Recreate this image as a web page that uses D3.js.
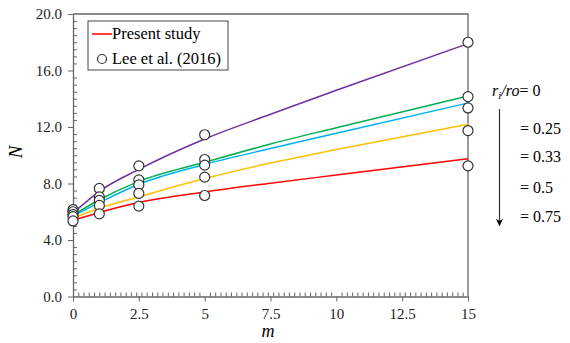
<!DOCTYPE html>
<html>
<head>
<meta charset="utf-8">
<script src="https://cdn.jsdelivr.net/npm/d3@7"></script>
<style>
  html, body { margin: 0; padding: 0; background: #fff; }
  svg { display: block; }
  svg text { font-family: "Liberation Serif", "Times New Roman", serif; }
</style>
</head>
<body>
<svg id="chart" width="570" height="343"></svg>
<script>
// ratio labels, top to bottom
const ratios = ["0", "0.25", "0.33", "0.5", "0.75"];
const colors = ["#7030A0", "#00B050", "#00B0F0", "#FFC000", "#FF0000"];

// present study curves
const lineM = [0, 1, 2.5, 5, 7.5, 10, 15];
const lineR0 = [5.9, 7.45, 9.0, 11.15, 12.9, 14.6, 17.9];
const lineR25 = [5.75, 6.85, 8.15, 9.5, 10.8, 11.95, 14.2];
const lineR33 = [5.7, 6.65, 7.95, 9.35, 10.48, 11.55, 13.7];
const lineR50 = [5.55, 6.25, 7.05, 8.35, 9.45, 10.4, 12.2];
const lineR75 = [5.4, 5.95, 6.65, 7.4, 8.02, 8.6, 9.75];

// Lee et al. (2016) points
const leeM = [0, 1, 2.5, 5, 15];
const leeR0 = [6.15, 7.65, 9.25, 11.45, 18.0];
const leeR25 = [6.0, 7.05, 8.25, 9.7, 14.15];
const leeR33 = [5.8, 6.8, 7.9, 9.3, 13.35];
const leeR50 = [5.65, 6.45, 7.3, 8.45, 11.75];
const leeR75 = [5.35, 5.85, 6.4, 7.15, 9.25];

const xTicks = [0, 2.5, 5, 7.5, 10, 12.5, 15];
const yTicks = [0, 4, 8, 12, 16, 20];

const lines = [lineR0, lineR25, lineR33, lineR50, lineR75];
const lees = [leeR0, leeR25, leeR33, leeR50, leeR75];

const svg = d3.select("#chart");
const axisColor = "#666";

const x = d3.scaleLinear().domain([0, 15]).range([73, 468]);
const y = d3.scaleLinear().domain([0, 20]).range([296.5, 14]);

// minor ticks (inside)
const xMinor = d3.range(0.2, 15, 0.2).filter(v => Math.abs(v / 2.5 - Math.round(v / 2.5)) > 0.02);
const yMinor = d3.range(0.5, 20, 0.5).filter(v => v % 4 !== 0);

svg.append("g")
  .attr("transform", `translate(0,${y(0)})`)
  .call(d3.axisTop(x).tickValues(xMinor).tickSize(4).tickFormat(""))
  .call(g => g.select(".domain").remove())
  .selectAll("line").attr("stroke", axisColor);

svg.append("g")
  .attr("transform", `translate(${x(0)},0)`)
  .call(d3.axisRight(y).tickValues(yMinor).tickSize(4).tickFormat(""))
  .call(g => g.select(".domain").remove())
  .selectAll("line").attr("stroke", axisColor);

// frame top/right
svg.append("path")
  .attr("d", `M${x(0)},${y(20)}H${x(15)}V${y(0)}`)
  .attr("fill", "none")
  .attr("stroke", axisColor)
  .attr("stroke-width", 1.3);

// major axes
const xAxis = svg.append("g")
  .attr("transform", `translate(0,${y(0)})`)
  .call(d3.axisBottom(x).tickValues(xTicks).tickSize(5).tickSizeOuter(0).tickPadding(7).tickFormat(d3.format("")))
  .attr("font-family", null).attr("font-size", null);
xAxis.select(".domain").attr("stroke", axisColor).attr("stroke-width", 1.3);
xAxis.selectAll("line").attr("stroke", axisColor);
xAxis.selectAll("text").attr("font-size", 15).attr("fill", "#222");

const yAxis = svg.append("g")
  .attr("transform", `translate(${x(0)},0)`)
  .call(d3.axisLeft(y).tickValues(yTicks).tickSize(5).tickSizeOuter(0).tickPadding(6).tickFormat(d3.format(".1f")))
  .attr("font-family", null).attr("font-size", null);
yAxis.select(".domain").attr("stroke", axisColor).attr("stroke-width", 1.3);
yAxis.selectAll("line").attr("stroke", axisColor);
yAxis.selectAll("text").attr("font-size", 15).attr("fill", "#222");

// curves
const line = d3.line()
  .x((d, i) => x(lineM[i]))
  .y(d => y(d))
  .curve(d3.curveMonotoneX);

svg.append("g").selectAll("path")
  .data(lines)
  .join("path")
  .attr("d", line)
  .attr("fill", "none")
  .attr("stroke", (d, i) => colors[i])
  .attr("stroke-width", 1.5);

// Lee et al. circles
const pts = [];
lees.forEach(arr => arr.forEach((v, i) => pts.push({ m: leeM[i], v })));
svg.append("g").selectAll("circle")
  .data(pts)
  .join("circle")
  .attr("cx", d => x(d.m))
  .attr("cy", d => y(d.v))
  .attr("r", 5)
  .attr("fill", "#fff")
  .attr("stroke", "#333")
  .attr("stroke-width", 1.2);

// axis titles
svg.append("text")
  .attr("x", 268).attr("y", 337)
  .attr("text-anchor", "middle")
  .attr("font-size", 18).attr("font-style", "italic")
  .text("m");

svg.append("text")
  .attr("transform", "translate(22,152) rotate(-90)")
  .attr("text-anchor", "middle")
  .attr("font-size", 19).attr("font-style", "italic")
  .text("N");

// legend
const lg = svg.append("g");
lg.append("rect")
  .attr("x", 88).attr("y", 21).attr("width", 140).attr("height", 49)
  .attr("fill", "#fff").attr("stroke", "#444").attr("stroke-width", 1);
lg.append("line")
  .attr("x1", 92).attr("x2", 112).attr("y1", 34).attr("y2", 34)
  .attr("stroke", "#FF0000").attr("stroke-width", 1.5);
lg.append("text").attr("x", 112).attr("y", 39).attr("font-size", 16.5).text("Present study");
lg.append("circle").attr("cx", 102).attr("cy", 59).attr("r", 4.5)
  .attr("fill", "#fff").attr("stroke", "#333").attr("stroke-width", 1.2);
lg.append("text").attr("x", 112).attr("y", 64).attr("font-size", 16.5).text("Lee et al. (2016)");

// ratio annotation
const ann = svg.append("g").attr("font-size", 16);
const t0 = ann.append("text").attr("x", 492).attr("y", 96);
t0.append("tspan").attr("font-style", "italic").text("r");
t0.append("tspan").attr("font-style", "italic").attr("font-size", 11).attr("dy", 3).text("i");
t0.append("tspan").attr("font-style", "italic").attr("dy", -3).text("/ro");
t0.append("tspan").text("= " + ratios[0]);

const annY = [134, 162, 193, 222];
ratios.slice(1).forEach((r, i) => {
  ann.append("text").attr("x", 520).attr("y", annY[i]).text("= " + r);
});

svg.append("defs").append("marker")
  .attr("id", "arrow")
  .attr("viewBox", "0 -5 10 10")
  .attr("refX", 10).attr("refY", 0)
  .attr("markerWidth", 6).attr("markerHeight", 6)
  .attr("orient", "auto")
  .append("path")
  .attr("d", "M0,-5L10,0L0,5L3,0Z")
  .attr("fill", "#000");

svg.append("line")
  .attr("x1", 499.5).attr("x2", 499.5).attr("y1", 109).attr("y2", 226)
  .attr("stroke", "#333").attr("stroke-width", 1.2)
  .attr("marker-end", "url(#arrow)");
</script>
</body>
</html>
